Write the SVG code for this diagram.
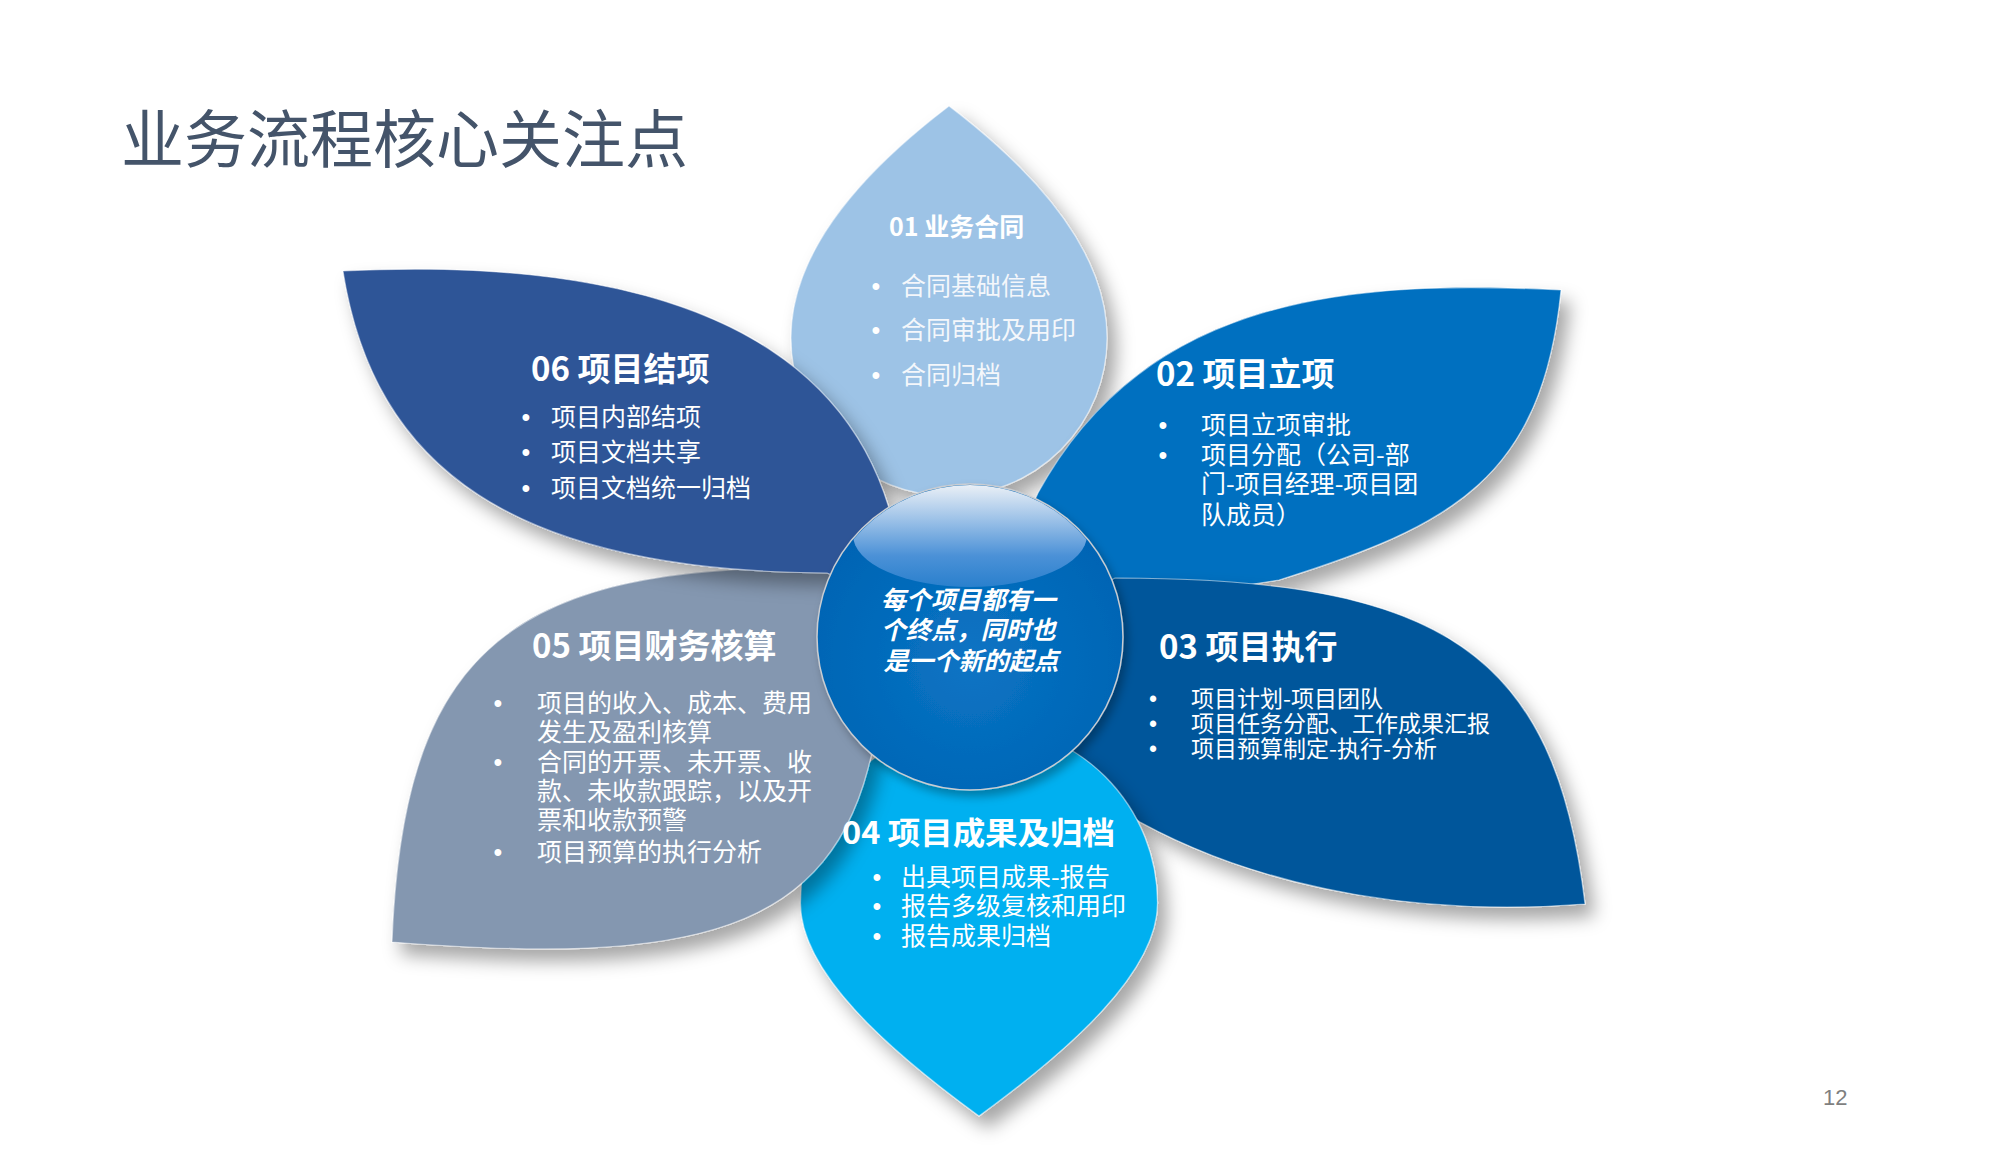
<svg xmlns="http://www.w3.org/2000/svg" width="2000" height="1165" viewBox="0 0 2000 1165">
<defs>
<style>
.t{font-family:"Noto Sans CJK SC","Noto Sans",sans-serif;fill:#ffffff}
.h{font-weight:700}
.b{font-family:"Liberation Sans","Noto Sans CJK SC",sans-serif;fill:#ffffff;text-anchor:middle}
.petal{stroke:#ffffff;stroke-opacity:0.5;stroke-width:1.2;filter:url(#sh)}
</style>
<filter id="sh" x="-15%" y="-15%" width="140%" height="140%">
<feGaussianBlur in="SourceAlpha" stdDeviation="9"/>
<feOffset dx="9" dy="12" result="o"/>
<feFlood flood-color="#000000" flood-opacity="0.35"/>
<feComposite in2="o" operator="in"/>
<feMerge><feMergeNode/><feMergeNode in="SourceGraphic"/></feMerge>
</filter>
<filter id="csh" x="-15%" y="-15%" width="140%" height="140%">
<feGaussianBlur in="SourceAlpha" stdDeviation="5"/>
<feOffset dx="4" dy="6" result="o"/>
<feFlood flood-color="#000000" flood-opacity="0.3"/>
<feComposite in2="o" operator="in"/>
<feMerge><feMergeNode/><feMergeNode in="SourceGraphic"/></feMerge>
</filter>
<radialGradient id="cg" cx="50%" cy="58%" r="55%">
<stop offset="0" stop-color="#0A74C4"/>
<stop offset="1" stop-color="#0064B4"/>
</radialGradient>
<linearGradient id="hg" x1="0" y1="0" x2="0" y2="1">
<stop offset="0" stop-color="#EEF2F7"/>
<stop offset="0.3" stop-color="#A9C9EA"/>
<stop offset="0.7" stop-color="#4B91D7"/>
<stop offset="1" stop-color="#2A80CD"/>
</linearGradient>
<clipPath id="cc"><circle cx="970" cy="637" r="152"/></clipPath>
</defs>
<rect width="2000" height="1165" fill="#ffffff"/>
<text class="t" x="121" y="162" font-size="63" style="fill:#44546A">业务流程核心关注点</text>

<g id="petals">
<path id="petal-01-shape" class="petal" fill="#9DC3E6" d="M791,338 A158,158 0 0 0 1107,338 C1107,238 1012,154 949,106 C886,154 791,238 791,338 Z"/>
<path id="petal-02-shape" class="petal" fill="#0070C0" d="M1561,290 C1361,280 1148,291 1038,493 L990,600 L1150,600 L1279,580 C1450,526 1542,480 1561,290 Z"/>
<path id="petal-03-shape" class="petal" fill="#02579B" d="M1585,904 C1555,654 1445,578 1115,578 L1000,640 L1080,780 L1140,822 C1272,894 1435,916 1585,904 Z"/>
<path id="petal-04-shape" class="petal" fill="#00B0F0" d="M800.5,903 A178.5,178.5 0 0 1 1157.5,903 C1157.5,973 1068,1051 979,1116 C890,1051 800.5,973 800.5,903 Z"/>
<path id="petal-05-shape" class="petal" fill="#8497B0" d="M392,942 C403,665 498,568 800,568 L850,566 L960,640 L872,752 C833,934 692,966 392,942 Z"/>
<path id="petal-06-shape" class="petal" fill="#2F5597" d="M343,271 C540,261.5 821,282 889,508 L950,620 L827,573 C512,571 374,467 343,271 Z"/>
</g>

<g id="connectors"></g>

<g id="node-center">
<circle cx="970" cy="637" r="153" fill="url(#cg)" stroke="#C9CDD2" stroke-width="1.5" filter="url(#csh)"/>
<ellipse cx="970" cy="535" rx="117" ry="52" fill="url(#hg)" clip-path="url(#cc)"/>
<text class="t h" font-size="25" font-style="italic" text-anchor="middle">
<tspan x="971" y="609">每个项目都有一</tspan>
<tspan x="971" y="639">个终点，同时也</tspan>
<tspan x="971" y="670">是一个新的起点</tspan>
</text>
</g>

<g id="node-01">
<text class="t h" x="889" y="236" font-size="25">01 业务合同</text>
<text class="b" font-size="25"><tspan x="876" y="295">•</tspan><tspan x="876" y="339">•</tspan><tspan x="876" y="384">•</tspan></text>
<text class="t" font-size="25" style="fill:#F4F7FB">
<tspan x="901" y="295">合同基础信息</tspan>
<tspan x="901" y="339">合同审批及用印</tspan>
<tspan x="901" y="384">合同归档</tspan>
</text>
</g>

<g id="node-02">
<text class="t h" x="1156" y="386" font-size="33">02 项目立项</text>
<text class="b" font-size="25"><tspan x="1163" y="434">•</tspan><tspan x="1163" y="464">•</tspan></text>
<text class="t" font-size="25">
<tspan x="1201" y="434">项目立项审批</tspan>
<tspan x="1201" y="464">项目分配（公司-部</tspan>
<tspan x="1201" y="493">门-项目经理-项目团</tspan>
<tspan x="1201" y="524">队成员）</tspan>
</text>
</g>

<g id="node-03">
<text class="t h" x="1159" y="659" font-size="33">03 项目执行</text>
<text class="b" font-size="23"><tspan x="1153" y="707">•</tspan><tspan x="1153" y="732">•</tspan><tspan x="1153" y="757">•</tspan></text>
<text class="t" font-size="23">
<tspan x="1191" y="707">项目计划-项目团队</tspan>
<tspan x="1191" y="732">项目任务分配、工作成果汇报</tspan>
<tspan x="1191" y="757">项目预算制定-执行-分析</tspan>
</text>
</g>

<g id="node-04">
<text class="t h" x="842" y="844" font-size="31" textLength="273" lengthAdjust="spacingAndGlyphs">04 项目成果及归档</text>
<text class="b" font-size="25"><tspan x="877" y="886">•</tspan><tspan x="877" y="915">•</tspan><tspan x="877" y="945">•</tspan></text>
<text class="t" font-size="25">
<tspan x="901" y="886">出具项目成果-报告</tspan>
<tspan x="901" y="915">报告多级复核和用印</tspan>
<tspan x="901" y="945">报告成果归档</tspan>
</text>
</g>

<g id="node-05">
<text class="t h" x="532" y="658" font-size="33">05 项目财务核算</text>
<text class="b" font-size="25"><tspan x="498" y="712">•</tspan><tspan x="498" y="771">•</tspan><tspan x="498" y="861">•</tspan></text>
<text class="t" font-size="25">
<tspan x="537" y="712">项目的收入、成本、费用</tspan>
<tspan x="537" y="741">发生及盈利核算</tspan>
<tspan x="537" y="771">合同的开票、未开票、收</tspan>
<tspan x="537" y="800">款、未收款跟踪，以及开</tspan>
<tspan x="537" y="829">票和收款预警</tspan>
<tspan x="537" y="861">项目预算的执行分析</tspan>
</text>
</g>

<g id="node-06">
<text class="t h" x="531" y="381" font-size="33">06 项目结项</text>
<text class="b" font-size="25"><tspan x="526" y="426">•</tspan><tspan x="526" y="461">•</tspan><tspan x="526" y="497">•</tspan></text>
<text class="t" font-size="25">
<tspan x="551" y="426">项目内部结项</tspan>
<tspan x="551" y="461">项目文档共享</tspan>
<tspan x="551" y="497">项目文档统一归档</tspan>
</text>
</g>

<text x="1823" y="1105" font-family="Liberation Sans, sans-serif" font-size="22" fill="#7F7F7F">12</text>
</svg>
